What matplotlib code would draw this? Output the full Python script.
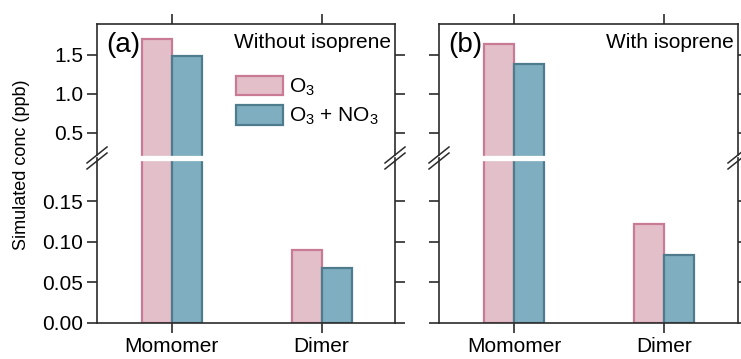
import numpy as np
import matplotlib
matplotlib.use("Agg")
import matplotlib.pyplot as plt
from matplotlib.ticker import FormatStrFormatter

plt.rcParams["font.family"] = ["Liberation Sans", "DejaVu Sans"]
plt.rcParams["mathtext.fontset"] = "custom"
plt.rcParams["mathtext.rm"] = "Liberation Sans"
plt.rcParams["mathtext.it"] = "Liberation Sans:italic"

categories = ["Momomer", "Dimer"]
series_labels = ["O$_3$", "O$_3$ + NO$_3$"]
panel_tags = ["(a)", "(b)"]
panel_titles = ["Without isoprene", "With isoprene"]
# simulated concentrations (ppb), rows = O3 / O3 + NO3
no_isoprene = [[1.70, 0.090], [1.49, 0.068]]
with_isoprene = [[1.64, 0.122], [1.385, 0.084]]

fill_colors = ["#e3bfc9", "#7eaebf"]
edge_colors = ["#c97b95", "#4f7c8d"]
spine_color = "#2b2b2b"

W, H = 741, 359
fig = plt.figure(figsize=(W / 100, H / 100), dpi=100)

y_top, y_break, y_bot = 24, 158, 323
panel_x = [(97, 395), (439, 738)]
upper_lim = (0.179, 1.897)
lower_lim = (0.0, 0.203)

x = np.arange(len(categories))
width = 0.2


def fy(py):
    return 1 - py / H


def style(ax):
    for s in ax.spines.values():
        s.set_color(spine_color)
        s.set_linewidth(1.2)
        s.set_zorder(5)
    ax.tick_params(direction="out", length=7, width=1.2, color=spine_color,
                   labelsize=15, pad=3)


def break_marks(ax):
    d = dict(transform=fig.transFigure, color=spine_color, lw=1.1,
             clip_on=False, zorder=10)
    x0, x1 = ax.get_position().x0, ax.get_position().x1
    for xs in (x0, x1):
        cx = xs * W
        for off in (-3, 3):
            fig.add_artist(plt.Line2D([(cx - 10) / W, (cx + 10) / W],
                                      [fy(y_break + 8 + off), fy(y_break - 8 + off)], **d))
        # white gap behind the slashes
    return


for i, data in enumerate([no_isoprene, with_isoprene]):
    l, r = panel_x[i]
    ax_hi = fig.add_axes([l / W, fy(y_break), (r - l) / W, (y_break - y_top) / H])
    ax_lo = fig.add_axes([l / W, fy(y_bot), (r - l) / W, (y_bot - y_break) / H])

    for ax in (ax_hi, ax_lo):
        for j in range(2):
            ax.bar(x + (j - 0.5) * width, data[j], width, color=fill_colors[j],
                   edgecolor=edge_colors[j], linewidth=1.6, label=series_labels[j],
                   zorder=2)
        ax.set_xlim(-0.5, 1.49)
        style(ax)

    ax_hi.set_ylim(*upper_lim)
    ax_lo.set_ylim(*lower_lim)
    ax_hi.set_yticks([0.5, 1.0, 1.5])
    ax_lo.set_yticks([0.0, 0.05, 0.10, 0.15])
    ax_hi.yaxis.set_major_formatter(FormatStrFormatter("%.1f"))
    ax_lo.yaxis.set_major_formatter(FormatStrFormatter("%.2f"))

    ax_hi.spines["bottom"].set_visible(False)
    ax_lo.spines["top"].set_visible(False)
    ax_hi.set_xticks(x)
    ax_lo.set_xticks(x)
    ax_hi.tick_params(top=True, bottom=False, labelbottom=False, labeltop=False,
                      right=True)
    ax_lo.tick_params(right=True)
    ax_lo.set_xticklabels(categories)
    if i == 1:
        ax_hi.tick_params(labelleft=False)
        ax_lo.tick_params(labelleft=False)

    # white cut through the tall bars at the axis break
    ax_lo.axhline(lower_lim[1], xmin=0.004, xmax=0.996, color="white", lw=3.8,
                  clip_on=False, zorder=4)
    break_marks(ax_lo)

    ax_hi.text(0.03, 0.94, panel_tags[i], transform=ax_hi.transAxes, fontsize=20,
               ha="left", va="top")
    ax_hi.text(0.985, 0.93, panel_titles[i], transform=ax_hi.transAxes, fontsize=15,
               ha="right", va="top")

    if i == 0:
        ax_hi.legend(loc="upper left", bbox_to_anchor=((236 - l) / (r - l), 1 - (76 - y_top) / (y_break - y_top)),
                     frameon=False, fontsize=15, handlelength=2.25, handleheight=1.05,
                     handletextpad=0.3, labelspacing=0.35, borderpad=0, borderaxespad=0)

fig.text(22 / W, fy(165), "Simulated conc (ppb)", rotation=90, fontsize=13,
         ha="center", va="center")

fig.savefig("out.png", dpi=100)
